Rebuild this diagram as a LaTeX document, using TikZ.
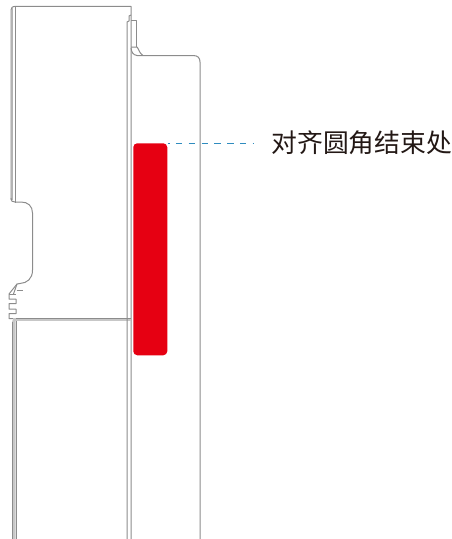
\documentclass[tikz,border=0pt]{standalone}
\usepackage{fontspec}
\newfontfamily\cjk{Noto Sans CJK SC}
\definecolor{outl}{HTML}{8C8C8C}
\definecolor{outlb}{HTML}{B4B4B4}
\definecolor{brandred}{HTML}{E60012}
\definecolor{labelink}{HTML}{231815}
\definecolor{leaderblue}{HTML}{2F8CBF}
\tikzset{
  outline/.style={draw=outl,line width=0.75pt,line join=round},
  faint/.style={draw=outlb,line width=0.75pt},
  band/.style={fill=black!22,draw=none},
  redbar/.style={fill=brandred,draw=none,rounded corners=3pt},
  leader/.style={draw=leaderblue,line width=0.5pt,dash pattern=on 4.9pt off 4.7pt,dash phase=3.3pt},
  label/.style={inner sep=0pt,anchor=west,font=\cjk\fontsize{19.35pt}{24pt}\selectfont,text=labelink}
}
\begin{document}
\begin{tikzpicture}[x=0.75pt,y=-0.75pt]
\useasboundingbox (0,0) rectangle (452,539);
% upper body outline
\draw[outline] (11,200) -- (11,10) .. controls (11,8) and (12,6.5) .. (15.5,6.3) -- (131,6.3) -- (131,539);
\draw[faint] (12.7,8) -- (12.7,200);
\draw[outline] (15.5,6.3) -- (15.5,203);
\draw[outline] (11,198) .. controls (11,201) and (12,202) .. (15,202) -- (21,202)
  .. controls (28,202) and (32.5,206) .. (32.5,213) -- (32.5,270)
  .. controls (32.5,279) and (27,283) .. (20,283.5) -- (17,284) -- (9,294) -- (9,299) -- (16,299) -- (16,303.5)
  -- (9,303.5) -- (9,309) -- (16,309) -- (16,313.5) -- (9,313.5) -- (9,318.5) -- (16,318.5);
\draw[outline] (9,294) -- (16,294);
\draw[outline] (17,284) -- (13.5,294);
\draw[outline] (16.5,290) -- (23,290);
% lower body band
\fill[band] (12,322) .. controls (12,320) and (13,319.5) .. (15.5,319) -- (15.5,539) -- (12,539) -- cycle;
\draw[outline] (12,322) -- (12,539);
\draw[outline] (16,319) -- (16,539);
% seam
\fill[band] (12.5,318) rectangle (131,320.5);
\draw[outline] (16,318.5) -- (131,318.5);
% inner rail
\draw[outline] (127,539) -- (127,22) -- (129,21) -- (129,16) -- (131,15);
% shoulder
\draw[outline] (131,20.5) -- (136.5,20.5) -- (136.5,47);
\draw[outline] (131,47) -- (137,47) .. controls (139,49) and (139,53) .. (143,55.5);
\draw[outline] (131,48) .. controls (131.5,52) and (133,55) .. (137,55.5) -- (193,55.5)
  .. controls (198,55.5) and (200,58) .. (200,62) -- (200,539);
% red bar
\node[redbar,minimum width=25.5pt,minimum height=159pt,inner sep=0pt,anchor=north west] (bar) at (133,143) {};
% label
\node[label] (txt) at (271.2,143) {对齐圆角结束处};
\coordinate (leadend) at (254,143);
\draw[leader] (bar.north east) -- (leadend);
\end{tikzpicture}
\end{document}
